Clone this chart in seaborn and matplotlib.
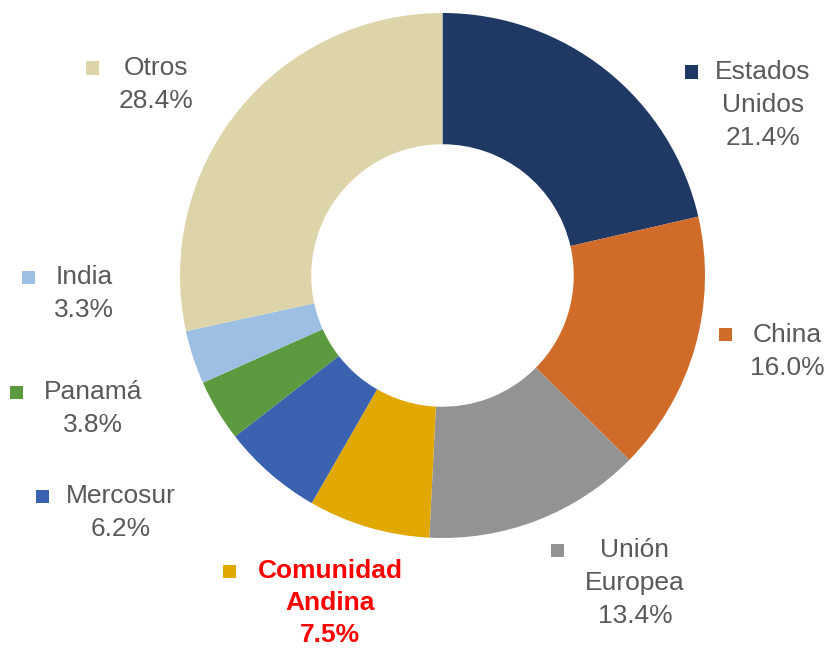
import matplotlib
matplotlib.use("Agg")
import matplotlib.pyplot as plt
from matplotlib.patches import Rectangle
import seaborn as sns

sns.set_theme(style="white")
plt.rcParams['font.family'] = ['Liberation Sans', 'DejaVu Sans']

# data (clockwise from 12 o'clock)
regions = ['Estados\nUnidos', 'China', 'Unión\nEuropea', 'Comunidad\nAndina',
           'Mercosur', 'Panamá', 'India', 'Otros']
shares = [21.4, 16.0, 13.4, 7.5, 6.2, 3.8, 3.3, 28.4]
colors = ['#1F3864', '#D06B2A', '#939393', '#E0A800',
          '#3A62B0', '#5B9A3E', '#9DBFE3', '#DDD5A9']

# label layout, in pixels (text centre x, first line y, square x)
label_pos = [(763, 72, 691), (787, 335, 725), (635, 550, 557), (330, 571, 229),
             (121, 496, 42), (93, 392, 16), (84, 277, 28), (156, 68, 92)]

W, H = 831, 650
fig = plt.figure(figsize=(W / 100, H / 100), dpi=100)
ax = fig.add_axes([180 / W, (H - 538) / H, 525 / W, 525 / H])
ax.pie(shares, colors=colors, startangle=90, counterclock=False,
       wedgeprops=dict(width=0.5, edgecolor='none', linewidth=0))
ax.set_xlim(-1, 1)
ax.set_ylim(-1, 1)
ax.set_aspect('equal')
ax.axis('off')

gray = '#595959'
for name, val, col, (cx, y0, sx) in zip(regions, shares, colors, label_pos):
    special = name.startswith('Comunidad')
    tcol = '#FF0000' if special else gray
    weight = 'bold' if special else 'normal'
    line_h = 32 if special else 33
    lines = name.split('\n') + [f'{val:.1f}%']
    for i, ln in enumerate(lines):
        fig.text(cx / W, 1 - (y0 + i * line_h) / H, ln, ha='center', va='center',
                 fontsize=19, color=tcol, fontweight=weight)
    sq = 13
    fig.patches.append(Rectangle(((sx - sq / 2) / W, 1 - (y0 + sq / 2) / H),
                                 sq / W, sq / H, transform=fig.transFigure,
                                 facecolor=col, edgecolor='none'))

fig.savefig('out.png', dpi=100, facecolor='white')
